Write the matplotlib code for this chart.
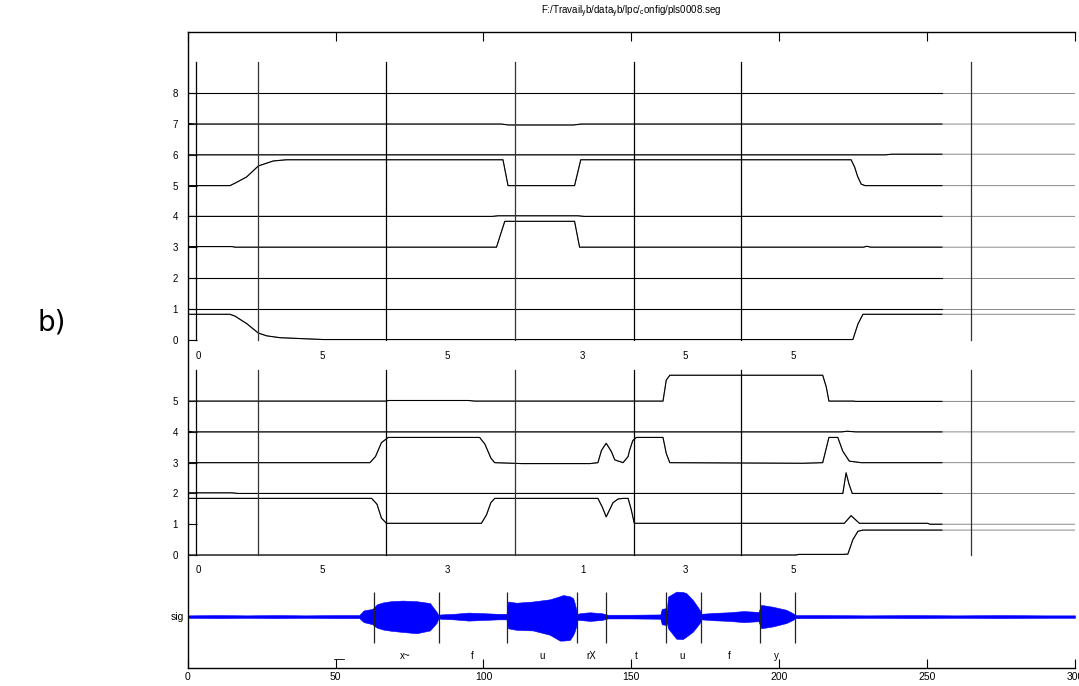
import numpy as np
import matplotlib
matplotlib.use("Agg")
import matplotlib.pyplot as plt

plt.rcParams["font.family"] = ["Liberation Sans", "DejaVu Sans"]
plt.rcParams["mathtext.fontset"] = "custom"
plt.rcParams["mathtext.rm"] = "Liberation Sans"
plt.rcParams["mathtext.default"] = "regular"

# --- data ---
title = r"F:/Travail$_y$b/data$_y$b/lpc/$_c$onfig/pls0008.seg"

# segment boundaries in the two state panels
seg_x = [2.8, 23.65, 66.9, 110.8, 150.8, 187.0, 264.9]
seg_col = ["k", "#333333", "k", "#333333", "k", "k", "#333333"]

# numbers printed under each panel
num_x = [3.6, 45.5, 87.7, 133.6, 168.3, 204.6]
num_top = ["0", "5", "5", "3", "5", "5"]
num_bot = ["0", "5", "3", "1", "3", "5"]

# upper panel channels (level values)
p1 = {
    8: ([0, 300], [8, 8]),
    7: ([0, 3, 106, 108.5, 130.5, 133, 300], [7.02, 7.0, 7.0, 6.97, 6.97, 7.0, 7.0]),
    6: ([0, 236, 238, 300], [6, 6, 6.02, 6.02]),
    5: ([0, 14.3, 16, 19.9, 23.9, 28.9, 33.4, 106.6, 108.3, 130.8, 132.9,
         224.3, 225.5, 226.5, 227.7, 229, 300],
        [5.0, 5.0, 5.08, 5.28, 5.64, 5.8, 5.84, 5.84, 5.0, 5.0, 5.84,
         5.84, 5.6, 5.3, 5.05, 5.0, 5.0]),
    4: ([0, 103, 105, 132, 134, 300], [4.0, 4.0, 4.02, 4.02, 4.0, 4.0]),
    3: ([0, 15, 16, 104.4, 107.2, 130.8, 132.5, 228.5, 229.6, 231, 300],
        [3.02, 3.02, 3.0, 3.0, 3.84, 3.84, 3.0, 3.0, 3.03, 3.0, 3.0]),
    2: ([0, 300], [2, 2]),
    1: ([0, 300], [1, 1]),
    0: ([0, 14.3, 16, 19.9, 23.9, 26.7, 31.2, 45.7, 224.9, 226.6, 228.3, 300],
        [0.82, 0.82, 0.76, 0.52, 0.21, 0.12, 0.06, 0.0, 0.0, 0.5, 0.82, 0.82]),
}

# lower panel channels (level values)
p2 = {
    5: ([0, 67, 68, 95, 97, 160.7, 161.8, 163, 214.7, 215.9, 216.8, 225, 226, 300],
        [5.0, 5.0, 5.02, 5.02, 5.0, 5.0, 5.68, 5.84, 5.84, 5.46, 5.0, 5.0, 4.99, 4.99]),
    4: ([0, 2, 221, 223, 226, 300], [4.02, 4.0, 4.0, 4.02, 4.0, 4.0]),
    3: ([0, 61.6, 63.5, 65.5, 67.8, 98.7, 100.5, 102.5, 103.8, 113, 136, 138.7, 139.9,
         141.5, 143.2, 144.4, 147.2, 148.9, 149.4, 150.5, 151.7, 160.7, 161.8, 163,
         208, 214.7, 216.8, 219.8, 221.5, 223.7, 227.7, 300],
        [3.0, 3.0, 3.2, 3.65, 3.82, 3.82, 3.6, 3.15, 3.0, 2.97, 2.97, 3.0, 3.4,
         3.63, 3.37, 3.09, 3.0, 3.2, 3.4, 3.72, 3.82, 3.82, 3.3, 3.0,
         2.98, 3.0, 3.82, 3.82, 3.37, 3.05, 3.0, 3.0]),
    2: ([0, 15, 17, 221.5, 222.6, 223.6, 224.7, 300],
        [2.02, 2.02, 2.0, 2.0, 2.67, 2.3, 2.0, 2.0]),
    1: ([0, 62.2, 64, 65.5, 67.2, 99.3, 101, 102.5, 103.8, 138.7, 140.2, 141.5,
         143.8, 145.5, 147.2, 148.9, 149.9, 151.0, 222, 224.3, 227.1, 250.2, 251, 300],
        [1.84, 1.84, 1.65, 1.2, 1.03, 1.03, 1.3, 1.7, 1.84, 1.84, 1.55, 1.24,
         1.7, 1.82, 1.84, 1.84, 1.5, 1.03, 1.03, 1.28, 1.03, 1.03, 1.0, 1.0]),
    0: ([0, 205.7, 206.5, 221.5, 223.2, 224.9, 226.6, 228.2, 300],
        [0.0, 0.0, 0.02, 0.02, 0.03, 0.5, 0.77, 0.81, 0.81]),
}

# signal envelope (upper / lower half width around the sig line)
sig_x = [0, 10, 20, 30, 40, 50, 58, 59.5, 62.5, 63.0, 64.0, 66.0, 68.7, 72.7, 77.4,
         81.9, 84.1, 84.8, 85.5, 90, 95, 100, 105, 107.8, 108.3, 111.1, 116.7, 122.4,
         125.8, 126.9, 129.2, 130.3, 130.8, 131.4, 131.8, 132.5, 136, 140, 142,
         150, 159.8, 160.3, 161.5, 162.0, 162.4, 165.2, 167.4, 168.6, 170.8, 173.1,
         173.6, 178, 183, 188, 193.0, 193.9, 197.8, 202.4, 204.6, 205.5, 215,
         230, 245, 260, 275, 290, 300]
sig_up = [0.04, 0.05, 0.04, 0.05, 0.04, 0.05, 0.05, 0.2, 0.25, 0.3, 0.4, 0.46, 0.5,
          0.52, 0.5, 0.44, 0.16, 0.05, 0.07, 0.09, 0.13, 0.11, 0.09, 0.09, 0.49, 0.45,
          0.49, 0.56, 0.66, 0.7, 0.66, 0.6, 0.45, 0.22, 0.08, 0.11, 0.14, 0.11, 0.06,
          0.06, 0.07, 0.25, 0.27, 0.2, 0.65, 0.81, 0.8, 0.76, 0.54, 0.22,
          0.09, 0.12, 0.14, 0.18, 0.15, 0.38, 0.32, 0.22, 0.11, 0.05, 0.05,
          0.04, 0.05, 0.04, 0.05, 0.04, 0.04]
sig_lo = [0.04, 0.05, 0.04, 0.05, 0.04, 0.05, 0.05, 0.18, 0.25, 0.3, 0.36, 0.42, 0.46,
          0.5, 0.54, 0.45, 0.21, 0.05, 0.07, 0.09, 0.13, 0.11, 0.09, 0.09, 0.38, 0.43,
          0.45, 0.59, 0.78, 0.78, 0.76, 0.6, 0.49, 0.3, 0.1, 0.11, 0.14, 0.11, 0.06,
          0.06, 0.07, 0.25, 0.27, 0.2, 0.38, 0.72, 0.73, 0.65, 0.49, 0.21,
          0.09, 0.12, 0.14, 0.18, 0.15, 0.38, 0.32, 0.21, 0.11, 0.05, 0.05,
          0.04, 0.05, 0.04, 0.05, 0.04, 0.04]

# phone boundaries and labels under the signal
ph_x = [63.04, 84.8, 107.97, 131.76, 141.55, 161.82, 173.4, 193.45, 205.2]
lab_x = [73.4, 96.1, 119.8, 136.5, 151.5, 167.1, 183.0, 199.0]
lab_txt = ["x~", "f", "u", "rX", "t", "u", "f", "y"]

stray_x = [49.3, 53.0]
stray_y = [-3.38, -3.38]

# layout in y: lower panel at 0, upper panel at 7, signal at -2
TOP, SIG = 7, -2.0
CUT = 255.0

fig = plt.figure(figsize=(10.79, 6.86), dpi=100)
ax = fig.add_axes([187.7 / 1079, 1 - 668 / 686, (1075 - 187.7) / 1079, (668 - 31.7) / 686])
ax.set_xlim(0, 300)
ax.set_ylim(-3.67, 17.0)


def draw(xs, ys, base):
    xs = np.asarray(xs, float)
    ys = np.asarray(ys, float) + base
    ax.plot(xs, ys, color="#8a8a8a", lw=0.7)
    m = xs <= CUT
    xb = np.append(xs[m], CUT)
    yb = np.append(ys[m], np.interp(CUT, xs, ys))
    ax.plot(xb, yb, color="k", lw=0.8)


for k, (xs, ys) in p1.items():
    draw(xs, ys, TOP)
for k, (xs, ys) in p2.items():
    draw(xs, ys, 0)

for x, c in zip(seg_x, seg_col):
    ax.plot([x, x], [TOP, TOP + 9], color=c, lw=0.9)
    ax.plot([x, x], [0, 6], color=c, lw=0.9)

for x, a, b in zip(num_x, num_top, num_bot):
    ax.text(x, TOP - 0.54, a, ha="center", va="center", fontsize=7)
    ax.text(x, -0.5, b, ha="center", va="center", fontsize=7)

# signal
sx = np.asarray(sig_x)
ax.fill_between(sx, SIG + np.asarray(sig_up), SIG - np.asarray(sig_lo),
                color="#0000ff", lw=0.4, edgecolor="#0000ff")
ax.plot(sx, np.full(len(sx), SIG), color="#0000ff", lw=0.7)
ax.vlines(ph_x, SIG - 0.85, SIG + 0.81, color="#222222", lw=0.9)
for x, t in zip(lab_x, lab_txt):
    ax.text(x, -3.28, t, ha="center", va="center", fontsize=7)
ax.text(-1.3, SIG, "sig", ha="right", va="center", fontsize=7.5)
ax.plot(stray_x, stray_y, color="k", lw=0.6)

# axes decoration
ax.spines["right"].set_visible(False)
for s in ["left", "top", "bottom"]:
    ax.spines[s].set_linewidth(1.0)
ax.set_xticks(range(0, 301, 50))
ax.tick_params(axis="x", direction="in", length=6.5, width=0.8, top=True,
               labelsize=7.5, pad=3)
lev = list(range(0, 6)) + [TOP + i for i in range(0, 9)]
lev_lab = [str(i) for i in range(0, 6)] + [str(i) for i in range(0, 9)]
ax.set_yticks(lev)
ax.set_yticklabels(lev_lab)
ax.tick_params(axis="y", direction="in", length=6.5, width=0.8, labelsize=7, pad=7)

fig.text(631 / 1079, 1 - 12 / 686, title, ha="center", va="center", fontsize=7)
fig.text(38 / 1079, 1 - 323 / 686, "b)", ha="left", va="center", fontsize=20,
         family="DejaVu Sans")

fig.savefig("out.png", dpi=100)
